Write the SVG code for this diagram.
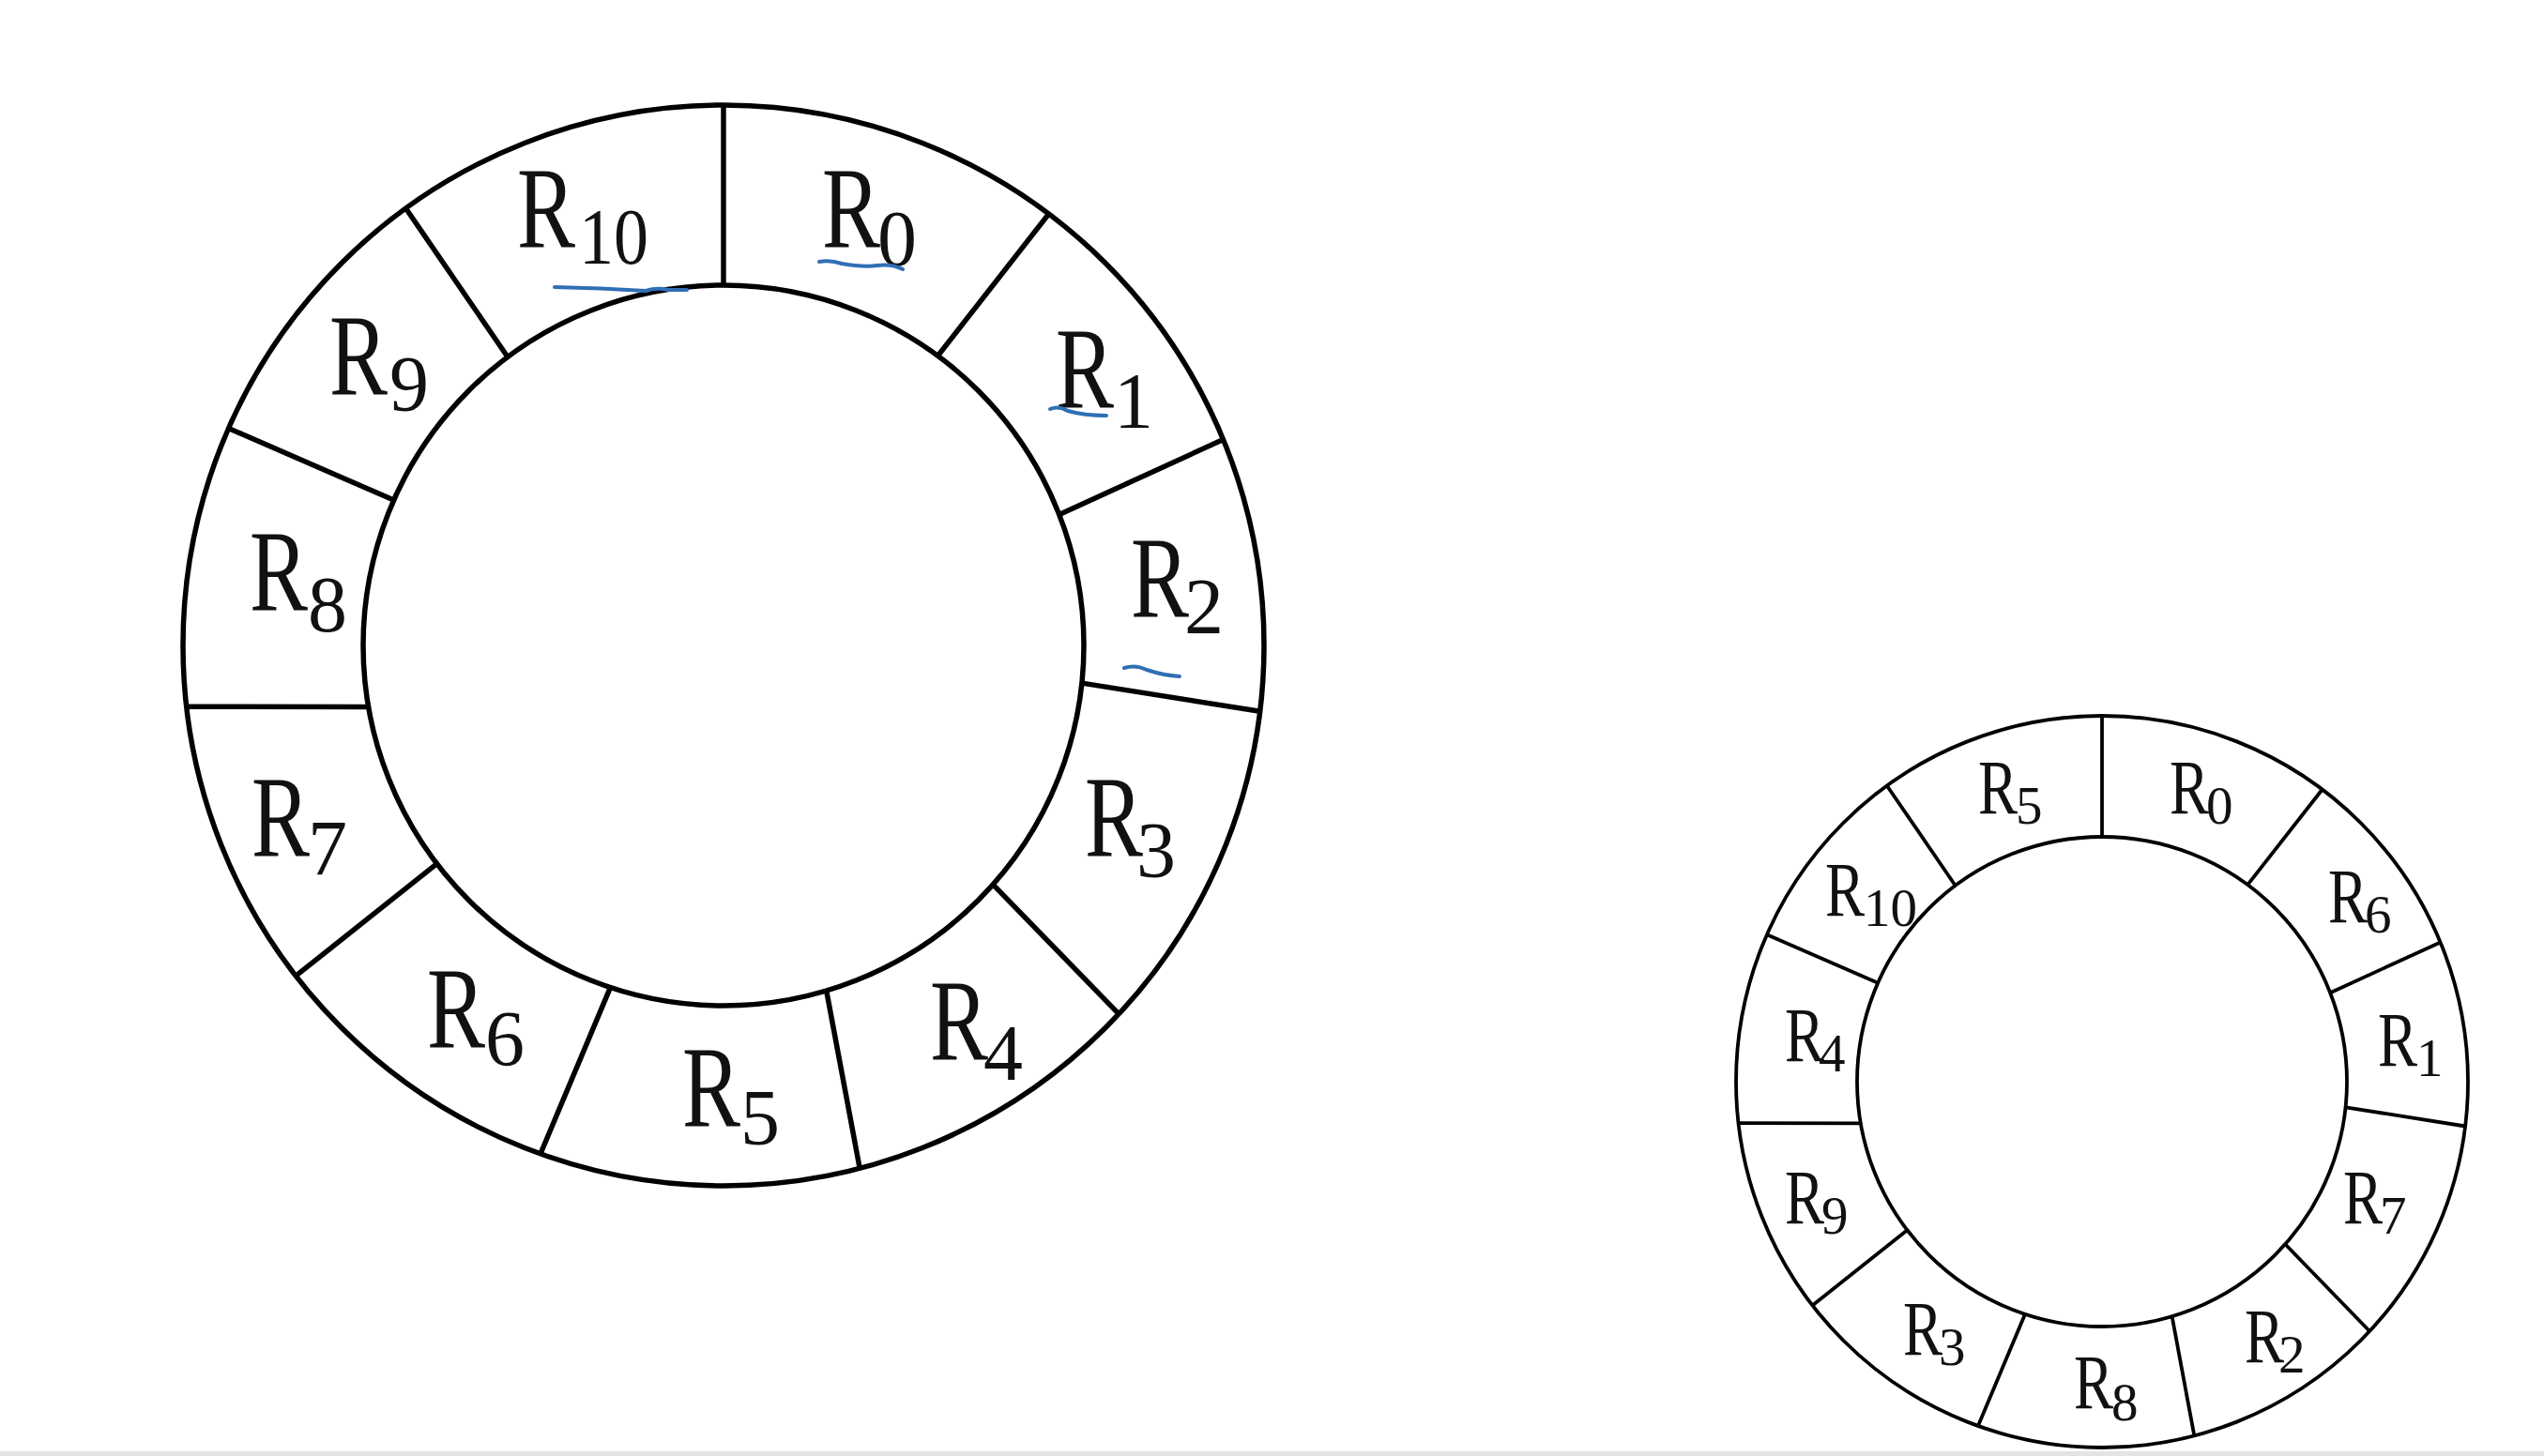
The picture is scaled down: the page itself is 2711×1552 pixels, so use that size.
<svg xmlns="http://www.w3.org/2000/svg" width="2711" height="1552" viewBox="0 0 2711 1552">
<style>
.ring{fill:none;stroke:#000}
.big{stroke-width:5.5}
.small{stroke-width:3.8}
.r{font-family:"Liberation Serif","Times New Roman",serif;fill:#111}
.rb{font-size:122px}
.sb{font-size:84px}
.rs{font-size:83px}
.ss{font-size:57px}
.ink{fill:none;stroke:#2f6fb5;stroke-width:4;stroke-linecap:round;stroke-linejoin:round}
</style>
<rect width="2711" height="1552" fill="#ffffff"/>
<rect x="0" y="1547" width="2711" height="5" fill="#e4e4e4"/>

<g id="ring-large">
  <circle class="ring big" cx="771" cy="688" r="576"/>
  <circle class="ring big" cx="771" cy="688" r="384"/>
  <g class="ring big">
    <line x1="771" y1="112" x2="771" y2="304"/>
    <line x1="1117.6" y1="228" x2="999.4" y2="379.3"/>
    <line x1="1303.5" y1="468.5" x2="1128.8" y2="548.5"/>
    <line x1="1342.7" y1="758.2" x2="1152.9" y2="728.1"/>
    <line x1="1192.3" y1="1080.8" x2="1058.2" y2="942.9"/>
    <line x1="916.2" y1="1245.4" x2="880.7" y2="1056"/>
    <line x1="575.9" y1="1230" x2="650.4" y2="1052.6"/>
    <line x1="315.3" y1="1040.2" x2="465.6" y2="920.7"/>
    <line x1="198.7" y1="753.2" x2="392.6" y2="753.4"/>
    <line x1="243.6" y1="456.5" x2="419.6" y2="533.1"/>
    <line x1="432.4" y1="222" x2="541" y2="380.5"/>
  </g>
  <g id="L-R10"><text class="r rb" x="551" y="263"><tspan textLength="62" lengthAdjust="spacingAndGlyphs">R</tspan><tspan class="sb" dx="4" dy="18" textLength="74" lengthAdjust="spacingAndGlyphs">10</tspan></text></g>
  <g id="L-R0"><text class="r rb" x="876" y="263"><tspan textLength="62" lengthAdjust="spacingAndGlyphs">R</tspan><tspan class="sb" dx="-3" dy="20">0</tspan></text></g>
  <g id="L-R1"><text class="r rb" x="1125" y="434"><tspan textLength="62" lengthAdjust="spacingAndGlyphs">R</tspan><tspan class="sb" dx="0" dy="22">1</tspan></text></g>
  <g id="L-R2"><text class="r rb" x="1205" y="657"><tspan textLength="62" lengthAdjust="spacingAndGlyphs">R</tspan><tspan class="sb" dx="-5" dy="18">2</tspan></text></g>
  <g id="L-R3"><text class="r rb" x="1156" y="912"><tspan textLength="62" lengthAdjust="spacingAndGlyphs">R</tspan><tspan class="sb" dx="-7" dy="23">3</tspan></text></g>
  <g id="L-R4"><text class="r rb" x="991" y="1129"><tspan textLength="62" lengthAdjust="spacingAndGlyphs">R</tspan><tspan class="sb" dx="-5" dy="22">4</tspan></text></g>
  <g id="L-R5"><text class="r rb" x="727" y="1200"><tspan textLength="62" lengthAdjust="spacingAndGlyphs">R</tspan><tspan class="sb" dx="0" dy="20">5</tspan></text></g>
  <g id="L-R6"><text class="r rb" x="455" y="1116"><tspan textLength="62" lengthAdjust="spacingAndGlyphs">R</tspan><tspan class="sb" dx="0" dy="20">6</tspan></text></g>
  <g id="L-R7"><text class="r rb" x="268" y="912"><tspan textLength="62" lengthAdjust="spacingAndGlyphs">R</tspan><tspan class="sb" dx="-2" dy="21">7</tspan></text></g>
  <g id="L-R8"><text class="r rb" x="266" y="650"><tspan textLength="62" lengthAdjust="spacingAndGlyphs">R</tspan><tspan class="sb" dx="0" dy="23">8</tspan></text></g>
  <g id="L-R9"><text class="r rb" x="351" y="420"><tspan textLength="62" lengthAdjust="spacingAndGlyphs">R</tspan><tspan class="sb" dx="2" dy="18">9</tspan></text></g>
</g>

<g id="annotations">
  <path class="ink" d="M591 306 Q640 307 688 310 Q700 306 712 309 L732 309"/>
  <path class="ink" d="M873 279 Q885 277 897 281 Q920 285 935 283 Q950 281 962 287"/>
  <path class="ink" d="M1119 436 Q1128 432 1138 438 Q1155 443 1179 443"/>
  <path class="ink" d="M1198 712 Q1210 708 1222 714 Q1240 720 1257 721"/>
</g>

<g id="ring-small">
  <circle class="ring small" cx="2240" cy="1153" r="390"/>
  <circle class="ring small" cx="2240" cy="1153" r="261"/>
  <g class="ring small">
    <line x1="2240" y1="763" x2="2240" y2="892"/>
    <line x1="2474.7" y1="841.5" x2="2395.2" y2="943.2"/>
    <line x1="2600.6" y1="1004.4" x2="2483.2" y2="1058.2"/>
    <line x1="2627.1" y1="1200.5" x2="2499.6" y2="1180.3"/>
    <line x1="2525.2" y1="1419" x2="2435.2" y2="1326.3"/>
    <line x1="2338.3" y1="1530.4" x2="2314.6" y2="1403.1"/>
    <line x1="2107.9" y1="1520" x2="2158" y2="1400.8"/>
    <line x1="1931.4" y1="1391.5" x2="2032.4" y2="1311.2"/>
    <line x1="1852.5" y1="1197.1" x2="1982.8" y2="1197.4"/>
    <line x1="1882.9" y1="996.3" x2="2001.2" y2="1047.7"/>
    <line x1="2010.8" y1="837.5" x2="2083.7" y2="944"/>
  </g>
  <g id="S-R5"><text class="r rs" x="2108" y="867"><tspan textLength="42" lengthAdjust="spacingAndGlyphs">R</tspan><tspan class="ss" dx="-2" dy="11">5</tspan></text></g>
  <g id="S-R0"><text class="r rs" x="2312" y="867"><tspan textLength="42" lengthAdjust="spacingAndGlyphs">R</tspan><tspan class="ss" dx="-3" dy="11">0</tspan></text></g>
  <g id="S-R10"><text class="r rs" x="1945" y="976"><tspan textLength="42" lengthAdjust="spacingAndGlyphs">R</tspan><tspan class="ss" dx="-1" dy="11">10</tspan></text></g>
  <g id="S-R6"><text class="r rs" x="2481" y="983"><tspan textLength="42" lengthAdjust="spacingAndGlyphs">R</tspan><tspan class="ss" dx="-3" dy="11">6</tspan></text></g>
  <g id="S-R4"><text class="r rs" x="1902" y="1131"><tspan textLength="42" lengthAdjust="spacingAndGlyphs">R</tspan><tspan class="ss" dx="-6" dy="11">4</tspan></text></g>
  <g id="S-R1"><text class="r rs" x="2534" y="1136"><tspan textLength="42" lengthAdjust="spacingAndGlyphs">R</tspan><tspan class="ss" dx="-1" dy="11">1</tspan></text></g>
  <g id="S-R9"><text class="r rs" x="1902" y="1304"><tspan textLength="42" lengthAdjust="spacingAndGlyphs">R</tspan><tspan class="ss" dx="-3" dy="11">9</tspan></text></g>
  <g id="S-R7"><text class="r rs" x="2497" y="1304"><tspan textLength="42" lengthAdjust="spacingAndGlyphs">R</tspan><tspan class="ss" dx="-3" dy="11">7</tspan></text></g>
  <g id="S-R3"><text class="r rs" x="2028" y="1444"><tspan textLength="42" lengthAdjust="spacingAndGlyphs">R</tspan><tspan class="ss" dx="-4" dy="11">3</tspan></text></g>
  <g id="S-R2"><text class="r rs" x="2392" y="1452"><tspan textLength="42" lengthAdjust="spacingAndGlyphs">R</tspan><tspan class="ss" dx="-6" dy="11">2</tspan></text></g>
  <g id="S-R8"><text class="r rs" x="2210" y="1501"><tspan textLength="42" lengthAdjust="spacingAndGlyphs">R</tspan><tspan class="ss" dx="-2" dy="13">8</tspan></text></g>
</g>

<g id="connectors"></g>
</svg>
